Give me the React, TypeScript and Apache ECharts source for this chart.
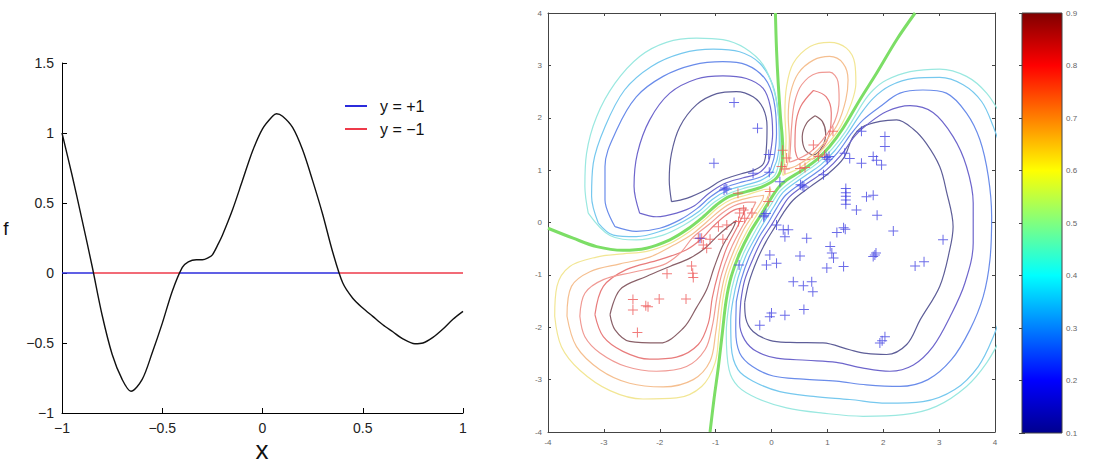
import React, { useEffect, useRef } from "react";
import * as echarts from "echarts";

// ---------- Left panel: latent function f(x) ----------
const fX = [-1, -0.95, -0.9, -0.85, -0.8, -0.75, -0.7, -0.656, -0.6, -0.55, -0.5, -0.45, -0.4, -0.37, -0.33, -0.3, -0.27, -0.25, -0.22, -0.2, -0.15, -0.1, -0.05, 0, 0.05, 0.07, 0.1, 0.15, 0.2, 0.25, 0.3, 0.35, 0.4, 0.45, 0.5, 0.55, 0.6, 0.65, 0.7, 0.76, 0.8, 0.85, 0.9, 0.95, 1];
const fY = [1.0, 0.7, 0.38, 0.05, -0.3, -0.58, -0.76, -0.845, -0.76, -0.57, -0.36, -0.13, 0.04, 0.08, 0.095, 0.095, 0.11, 0.13, 0.21, 0.27, 0.45, 0.66, 0.87, 1.03, 1.12, 1.138, 1.12, 1.04, 0.88, 0.66, 0.42, 0.15, -0.07, -0.18, -0.25, -0.31, -0.37, -0.42, -0.47, -0.505, -0.5, -0.46, -0.4, -0.33, -0.274];
const leftXTicks = [-1, 1, 0.5];
const leftYTicks = [-1, 1.5, 0.5];
const legendNames = ["y = +1", "y = \u22121"];

// ---------- Right panel: contours (data coordinates) ----------
const green05A = [[0.07, 4.0], [0.09, 3.3], [0.12, 2.66], [0.16, 2.02], [0.2, 1.45], [0.18, 1.07], [0.09, 0.85], [-0.15, 0.69], [-0.45, 0.59], [-0.75, 0.5], [-0.98, 0.34], [-1.22, 0.11], [-1.52, -0.14], [-1.82, -0.33], [-2.24, -0.49], [-2.66, -0.53], [-3.13, -0.46], [-3.55, -0.3], [-4.0, -0.11]];
const green05B = [[2.57, 4.0], [2.24, 3.49], [1.88, 2.85], [1.58, 2.34], [1.28, 1.8], [1.04, 1.45], [0.81, 1.2], [0.51, 0.97], [0.27, 0.81], [0.12, 0.66], [-0.06, 0.37], [-0.21, 0.11], [-0.39, -0.2], [-0.57, -0.59], [-0.72, -1.03], [-0.81, -1.48], [-0.88, -2.11], [-0.95, -2.75], [-1.03, -3.38], [-1.1, -4.0]];

const ul1 = [[-1.79, 0.4], [-1.83, 0.81], [-1.79, 1.32], [-1.64, 1.83], [-1.34, 2.25], [-0.98, 2.46], [-0.63, 2.5], [-0.33, 2.4], [-0.15, 2.18], [-0.08, 1.83], [-0.09, 1.45], [-0.14, 1.13], [-0.29, 1.01], [-0.54, 0.93], [-0.88, 0.81], [-1.18, 0.62], [-1.52, 0.46], [-1.79, 0.4]];
const ul2 = [[-2.36, 0.18], [-2.46, 0.69], [-2.4, 1.32], [-2.18, 1.96], [-1.82, 2.47], [-1.34, 2.74], [-0.87, 2.8], [-0.45, 2.75], [-0.15, 2.56], [-0.02, 2.21], [0.02, 1.7], [-0.02, 1.32], [-0.07, 1.12], [-0.25, 0.93], [-0.52, 0.85], [-0.85, 0.74], [-1.13, 0.55], [-1.38, 0.32], [-1.7, 0.18], [-2.06, 0.11], [-2.36, 0.18]];
const ul3 = [[-2.8, -0.08], [-2.98, 0.43], [-2.98, 1.07], [-2.77, 1.77], [-2.42, 2.4], [-1.94, 2.79], [-1.4, 3.01], [-0.87, 3.07], [-0.45, 3.01], [-0.12, 2.75], [0.04, 2.34], [0.09, 1.7], [0.05, 1.26], [0.01, 1.11], [-0.04, 0.97], [-0.22, 0.86], [-0.5, 0.78], [-0.82, 0.67], [-1.09, 0.49], [-1.34, 0.26], [-1.64, 0.05], [-2.0, -0.11], [-2.42, -0.17], [-2.8, -0.08]];
const ul4 = [[-3.1, -0.01], [-3.22, 0.5], [-3.19, 1.13], [-2.98, 1.83], [-2.63, 2.53], [-2.15, 2.98], [-1.61, 3.23], [-1.04, 3.31], [-0.57, 3.26], [-0.21, 3.04], [0.02, 2.63], [0.12, 2.09], [0.14, 1.51], [0.1, 1.2], [0.06, 1.09], [0.0, 0.94], [-0.2, 0.8], [-0.48, 0.71], [-0.79, 0.61], [-1.06, 0.44], [-1.3, 0.21], [-1.58, 0.02], [-1.94, -0.15], [-2.42, -0.27], [-2.83, -0.24], [-3.1, -0.01]];
const ul5 = [[-3.28, 0.18], [-3.34, 0.69], [-3.31, 1.32], [-3.13, 2.02], [-2.8, 2.66], [-2.36, 3.17], [-1.88, 3.44], [-1.34, 3.52], [-0.87, 3.49], [-0.48, 3.33], [-0.15, 3.01], [0.05, 2.5], [0.14, 1.9], [0.16, 1.39], [0.12, 1.08], [0.05, 0.89], [-0.17, 0.74], [-0.47, 0.66], [-0.77, 0.55], [-1.02, 0.39], [-1.26, 0.17], [-1.55, -0.04], [-1.94, -0.24], [-2.42, -0.33], [-2.89, -0.25], [-3.28, 0.18]];

const rr1 = [[-0.48, -1.53], [-0.4, -1.13], [-0.26, -0.72], [-0.1, -0.37], [0.07, -0.07], [0.21, 0.18], [0.39, 0.43], [0.69, 0.68], [1.01, 0.93], [1.29, 1.23], [1.45, 1.62], [1.62, 1.82], [1.94, 1.93], [2.24, 1.96], [2.54, 1.78], [2.77, 1.51], [3.01, 1.07], [3.13, 0.6], [3.25, -0.08], [3.19, -0.52], [3.01, -1.22], [2.66, -1.86], [2.42, -2.33], [2.06, -2.52], [1.7, -2.5], [1.4, -2.43], [0.92, -2.3], [0.33, -2.29], [-0.03, -2.25], [-0.33, -2.08], [-0.46, -1.83], [-0.48, -1.53]];
const rr2 = [[-0.55, -1.51], [-0.48, -1.1], [-0.33, -0.69], [-0.17, -0.33], [0.01, -0.03], [0.15, 0.22], [0.32, 0.49], [0.64, 0.75], [0.97, 0.99], [1.24, 1.28], [1.49, 1.65], [1.7, 1.86], [2.06, 2.12], [2.48, 2.23], [2.89, 2.1], [3.25, 1.64], [3.49, 1.07], [3.61, 0.37], [3.61, -0.39], [3.46, -1.16], [3.2, -1.79], [2.89, -2.37], [2.54, -2.72], [2.12, -2.84], [1.64, -2.78], [1.16, -2.67], [0.63, -2.63], [0.09, -2.59], [-0.27, -2.46], [-0.48, -2.24], [-0.57, -1.92], [-0.55, -1.51]];
const rr3 = [[-0.63, -1.51], [-0.54, -1.08], [-0.4, -0.66], [-0.23, -0.29], [-0.05, 0.01], [0.09, 0.27], [0.26, 0.53], [0.61, 0.81], [0.92, 1.05], [1.18, 1.33], [1.43, 1.7], [1.64, 1.96], [1.94, 2.21], [2.3, 2.47], [2.71, 2.53], [3.13, 2.47], [3.49, 2.09], [3.73, 1.58], [3.88, 0.88], [3.94, 0.11], [3.91, -0.71], [3.79, -1.41], [3.55, -2.05], [3.22, -2.62], [2.8, -3.0], [2.3, -3.13], [1.7, -3.1], [1.16, -3.03], [0.57, -2.99], [0.03, -2.93], [-0.34, -2.75], [-0.57, -2.49], [-0.64, -2.05], [-0.63, -1.51]];
const rr4 = [[4.15, -1.6], [3.97, -2.18], [3.7, -2.75], [3.28, -3.19], [2.71, -3.42], [2.06, -3.45], [1.4, -3.38], [0.75, -3.32], [0.15, -3.23], [-0.33, -3.03], [-0.6, -2.81], [-0.72, -2.37], [-0.73, -1.86], [-0.69, -1.49], [-0.6, -1.06], [-0.46, -0.64], [-0.28, -0.27], [-0.11, 0.05], [0.04, 0.3], [0.21, 0.58], [0.57, 0.87], [0.88, 1.1], [1.13, 1.37], [1.38, 1.73], [1.58, 2.05], [1.82, 2.37], [2.12, 2.61], [2.54, 2.75], [3.01, 2.77], [3.43, 2.63], [3.76, 2.31], [3.97, 1.83], [4.15, 1.26]];
const rr5 = [[4.15, -2.11], [3.85, -2.68], [3.49, -3.13], [2.95, -3.51], [2.36, -3.67], [1.64, -3.7], [0.92, -3.64], [0.27, -3.54], [-0.27, -3.35], [-0.6, -3.13], [-0.76, -2.81], [-0.81, -2.11], [-0.75, -1.49], [-0.66, -1.05], [-0.51, -0.61], [-0.33, -0.24], [-0.16, 0.08], [-0.01, 0.34], [0.17, 0.62], [0.54, 0.92], [0.84, 1.15], [1.09, 1.41], [1.34, 1.76], [1.64, 2.29], [1.82, 2.53], [2.06, 2.72], [2.48, 2.88], [3.01, 2.93], [3.49, 2.79], [3.85, 2.47], [4.15, 1.96]];

const ll1 = [[-2.89, -1.76], [-2.71, -1.28], [-2.24, -1.03], [-1.82, -0.84], [-1.46, -0.68], [-1.19, -0.49], [-0.98, -0.27], [-0.78, -0.08], [-0.63, 0.04], [-0.69, -0.11], [-0.88, -0.46], [-1.03, -0.87], [-1.16, -1.28], [-1.34, -1.62], [-1.58, -2.02], [-2.0, -2.3], [-2.54, -2.27], [-2.8, -2.05], [-2.89, -1.76]];
const ll2 = [[-3.16, -1.76], [-3.01, -1.22], [-2.6, -0.9], [-2.0, -0.71], [-1.52, -0.52], [-1.22, -0.28], [-1.06, -0.09], [-0.84, 0.12], [-0.64, 0.25], [-0.45, 0.28], [-0.61, -0.08], [-0.8, -0.48], [-0.95, -0.96], [-1.06, -1.44], [-1.13, -1.92], [-1.31, -2.33], [-1.7, -2.57], [-2.18, -2.61], [-2.66, -2.46], [-3.01, -2.18], [-3.16, -1.76]];
const ll3 = [[-3.43, -1.79], [-3.34, -1.35], [-3.01, -1.09], [-2.48, -0.95], [-1.94, -0.81], [-1.64, -0.59], [-1.41, -0.29], [-1.11, -0.03], [-0.88, 0.18], [-0.67, 0.32], [-0.42, 0.39], [-0.28, 0.39], [-0.36, 0.22], [-0.54, -0.11], [-0.73, -0.51], [-0.89, -0.98], [-0.98, -1.45], [-1.06, -1.98], [-1.19, -2.43], [-1.52, -2.75], [-2.06, -2.84], [-2.6, -2.75], [-3.07, -2.49], [-3.34, -2.18], [-3.43, -1.79]];
const ll4 = [[-3.66, -1.79], [-3.58, -1.22], [-3.25, -0.94], [-2.71, -0.79], [-2.18, -0.66], [-1.75, -0.43], [-1.44, -0.24], [-1.15, 0.02], [-0.91, 0.24], [-0.7, 0.38], [-0.41, 0.47], [-0.14, 0.52], [-0.16, 0.44], [-0.31, 0.18], [-0.5, -0.14], [-0.67, -0.53], [-0.83, -1.0], [-0.92, -1.46], [-1.0, -2.11], [-1.1, -2.65], [-1.4, -3.0], [-1.94, -3.14], [-2.54, -3.07], [-3.07, -2.81], [-3.49, -2.37], [-3.66, -1.79]];
const ll5 = [[-3.88, -1.79], [-3.84, -1.22], [-3.61, -0.84], [-3.13, -0.66], [-2.66, -0.6], [-2.23, -0.55], [-1.8, -0.39], [-1.49, -0.19], [-1.19, 0.06], [-0.95, 0.29], [-0.72, 0.44], [-0.43, 0.53], [-0.13, 0.63], [-0.01, 0.64], [-0.11, 0.4], [-0.26, 0.15], [-0.44, -0.17], [-0.62, -0.56], [-0.78, -1.01], [-0.87, -1.46], [-0.94, -2.11], [-1.01, -2.68], [-1.25, -3.13], [-1.7, -3.35], [-2.3, -3.37], [-2.89, -3.21], [-3.43, -2.82], [-3.76, -2.37], [-3.88, -1.79]];

const ur1 = [[0.78, 2.04], [0.91, 1.93], [0.97, 1.7], [0.91, 1.45], [0.75, 1.29], [0.6, 1.39], [0.55, 1.64], [0.63, 1.9], [0.78, 2.04]];
const ur2 = [[0.75, 2.52], [0.98, 2.4], [1.07, 2.09], [1.04, 1.7], [0.92, 1.42], [0.72, 1.21], [0.51, 1.2], [0.42, 1.45], [0.43, 1.83], [0.52, 2.21], [0.75, 2.52]];
const ur3 = [[0.32, 1.15], [0.34, 1.45], [0.36, 1.83], [0.41, 2.28], [0.54, 2.63], [0.81, 2.85], [1.04, 2.87], [1.19, 2.69], [1.21, 2.34], [1.13, 1.93], [0.91, 1.57], [0.69, 1.34], [0.45, 1.2], [0.32, 1.15]];
const ur4 = [[0.26, 1.02], [0.3, 1.2], [0.32, 1.58], [0.3, 2.02], [0.34, 2.47], [0.48, 2.85], [0.75, 3.1], [1.04, 3.17], [1.28, 3.04], [1.37, 2.72], [1.33, 2.34], [1.18, 1.87], [0.95, 1.53], [0.73, 1.29], [0.44, 1.08], [0.26, 1.02]];
const ur5 = [[0.2, 0.9], [0.24, 1.2], [0.26, 1.58], [0.24, 2.09], [0.27, 2.6], [0.39, 3.04], [0.69, 3.36], [1.04, 3.44], [1.34, 3.33], [1.49, 3.04], [1.51, 2.66], [1.43, 2.28], [1.24, 1.84], [1.0, 1.49], [0.77, 1.25], [0.47, 1.02], [0.27, 0.93], [0.2, 0.9]];

// training points
const redPts = [[-2.48, -1.47], [-2.48, -1.67], [-2.25, -1.59], [-2.21, -1.61], [-2.01, -1.46], [-2.4, -2.1], [-1.87, -0.98], [-1.53, -1.46], [-1.43, -0.83], [-1.41, -0.97], [-1.4, -1.05], [-1.31, -0.3], [-1.25, -0.3], [-1.22, -0.43], [-1.16, -0.49], [-1.1, -0.32], [-0.87, -0.32], [-0.95, -0.08], [-0.8, -0.05], [-0.59, 0.02], [-0.57, 0.18], [-0.48, 0.08], [-0.5, 0.24], [-0.35, 0.18], [-0.6, 0.56], [-0.03, 0.59], [-0.06, 0.4], [0.2, 1.38], [0.27, 1.23], [0.18, 1.07], [0.24, 1.02], [0.51, 1.03], [0.75, 1.48], [0.84, 1.26], [0.95, 1.29], [1.1, 1.74], [0.6, 1.05]];
const bluePts = [[-0.67, 2.29], [-0.25, 1.8], [-1.03, 1.13], [-0.83, 0.66], [-0.8, 0.64], [-0.85, 0.62], [-0.33, 0.94], [-0.04, 0.96], [-0.05, 1.3], [0.15, 0.78], [-0.13, 0.14], [-0.1, 0.17], [-0.14, 0.11], [0.09, -0.05], [-0.58, -0.81], [0.24, -0.27], [0.3, -0.14], [0.21, -0.14], [0.63, -0.3], [-0.09, -0.81], [-0.03, -0.62], [0.09, -0.78], [0.51, -0.64], [0.39, -1.13], [0.57, -1.21], [0.72, -1.13], [0.74, -1.32], [0.0, -1.73], [-0.03, -1.8], [0.24, -1.77], [0.58, -1.66], [-0.21, -1.96], [0.55, 0.7], [0.58, 0.68], [0.52, 0.72], [1.0, 1.21], [1.03, 1.26], [0.98, 1.24], [0.93, 0.91], [1.31, 1.32], [1.4, 1.22], [1.61, 1.13], [1.82, 1.26], [1.88, 1.19], [1.97, 1.1], [1.61, 1.74], [2.03, 1.64], [2.03, 1.45], [1.33, 0.65], [1.33, 0.57], [1.33, 0.5], [1.33, 0.43], [1.33, 0.35], [1.7, 0.49], [1.82, 0.52], [1.52, 0.24], [1.89, 0.14], [2.18, -0.16], [3.07, -0.33], [1.17, -0.19], [1.32, -0.13], [1.29, -0.1], [1.05, -0.46], [1.08, -0.58], [1.11, -0.68], [0.99, -0.87], [1.29, -0.84], [1.85, -0.62], [1.82, -0.65], [1.87, -0.58], [2.57, -0.83], [2.73, -0.75], [2.03, -2.18], [1.94, -2.3], [1.98, -2.26], [-1.28, -0.3]];

// colour scale
const cbMin = 0.1;
const cbMax = 0.9;
const jetStops = [
  [0, "#800000"], [0.125, "#ff0000"], [0.375, "#ffff00"], [0.625, "#00ffff"], [0.875, "#0000ff"], [1, "#00008f"],
];

const blueLevelColors = ["#5e5e98", "#6e66cc", "#6a8cea", "#76c8ee", "#9ae8e0"];
const redLevelColors = ["#8a6068", "#e87c7c", "#f09a94", "#f5bf90", "#f2e694"];

const PLUS = "path://M4.5,0H5.5V4.5H10V5.5H5.5V10H4.5V5.5H0V4.5H4.5Z";

function signSegments(xs: number[], ys: number[]) {
  const pos: number[][][] = [];
  const neg: number[][][] = [];
  let start = xs[0];
  let sign = ys[0] >= 0;
  for (let i = 1; i < xs.length; i++) {
    const s = ys[i] >= 0;
    if (s !== sign) {
      const t = ys[i - 1] / (ys[i - 1] - ys[i]);
      const xc = xs[i - 1] + t * (xs[i] - xs[i - 1]);
      (sign ? pos : neg).push([[start, 0], [xc, 0]]);
      start = xc;
      sign = s;
    }
  }
  (sign ? pos : neg).push([[start, 0], [xs[xs.length - 1], 0]]);
  return { pos, neg };
}

const minus = (v: number) => String(v).replace("-", "\u2212");

export default function App() {
  const ref = useRef<HTMLDivElement>(null);
  useEffect(() => {
    if (!ref.current) return;
    const chart = echarts.init(ref.current, undefined, { renderer: "svg" });
    const font = "Liberation Sans, Arial, Helvetica, sans-serif";

    const segs = signSegments(fX, fY);
    const zeroSeries: any[] = [];
    segs.pos.forEach((d) =>
      zeroSeries.push({
        name: legendNames[0], type: "line", xAxisIndex: 0, yAxisIndex: 0, data: d,
        symbol: "none", color: "#2b2bdc", lineStyle: { color: "#2b2bdc", width: 1.6 }, z: 2, silent: true,
      })
    );
    segs.neg.forEach((d) =>
      zeroSeries.push({
        name: legendNames[1], type: "line", xAxisIndex: 0, yAxisIndex: 0, data: d,
        symbol: "none", color: "#ee3a4a", lineStyle: { color: "#ee3a4a", width: 1.6 }, z: 2, silent: true,
      })
    );

    const contour = (data: number[][], color: string, width = 1.2, z = 2) => ({
      type: "line", xAxisIndex: 1, yAxisIndex: 1, data, symbol: "none", smooth: 0.35,
      lineStyle: { color, width }, z, silent: true, clip: true,
    });

    const contourSeries: any[] = [];
    [ul1, ul2, ul3, ul4, ul5].forEach((d, i) => contourSeries.push(contour(d, blueLevelColors[i])));
    [rr1, rr2, rr3, rr4, rr5].forEach((d, i) => contourSeries.push(contour(d, blueLevelColors[i])));
    [ll1, ll2, ll3, ll4, ll5].forEach((d, i) => contourSeries.push(contour(d, redLevelColors[i])));
    [ur1, ur2, ur3, ur4, ur5].forEach((d, i) => contourSeries.push(contour(d, redLevelColors[i])));
    contourSeries.push(contour(green05A, "#7cde66", 3, 3));
    contourSeries.push(contour(green05B, "#7cde66", 3, 3));

    const rightTick = { show: true, inside: true, length: 3, lineStyle: { color: "#444" } };
    const rightLine = { show: true, lineStyle: { color: "#444", width: 1 } };
    const rightLabel = { fontSize: 8, color: "#666", fontFamily: font, margin: 6 };

    const option: any = {
      animation: false,
      textStyle: { fontFamily: font },
      grid: [
        { left: 62, top: 63, width: 401, height: 350 },
        { left: 548, top: 13, width: 447, height: 419 },
        { left: 1022, top: 13, width: 40, height: 420 },
      ],
      legend: {
        data: legendNames, left: 340, top: 93, orient: "vertical", icon: "rect",
        itemWidth: 22, itemHeight: 2, itemGap: 7, selectedMode: false,
        textStyle: { fontSize: 16, color: "#111", fontFamily: font, padding: [0, 0, 0, 8] },
      },
      xAxis: [
        {
          gridIndex: 0, type: "value", min: leftXTicks[0], max: leftXTicks[1], interval: leftXTicks[2],
          axisLine: { show: true, onZero: false, lineStyle: { color: "#000", width: 1 } },
          axisTick: { show: true, inside: true, length: 5, lineStyle: { color: "#000" } },
          axisLabel: { fontSize: 14, color: "#222", margin: 8, formatter: minus },
          splitLine: { show: false },
        },
        {
          gridIndex: 1, type: "value", min: -4, max: 4, interval: 1, position: "bottom",
          axisLine: { ...rightLine, onZero: false }, axisTick: rightTick, axisLabel: rightLabel, splitLine: { show: false },
        },
        {
          gridIndex: 1, type: "value", min: -4, max: 4, interval: 1, position: "top",
          axisLine: { ...rightLine, onZero: false }, axisTick: rightTick, axisLabel: { show: false }, splitLine: { show: false },
        },
        { gridIndex: 2, type: "value", min: 0, max: 1, show: false },
      ],
      yAxis: [
        {
          gridIndex: 0, type: "value", min: leftYTicks[0], max: leftYTicks[1], interval: leftYTicks[2],
          axisLine: { show: true, onZero: false, lineStyle: { color: "#000", width: 1 } },
          axisTick: { show: true, inside: true, length: 5, lineStyle: { color: "#000" } },
          axisLabel: { fontSize: 14, color: "#222", margin: 8, formatter: minus },
          splitLine: { show: false },
        },
        {
          gridIndex: 1, type: "value", min: -4, max: 4, interval: 1, position: "left",
          axisLine: { ...rightLine, onZero: false }, axisTick: rightTick, axisLabel: rightLabel, splitLine: { show: false },
        },
        {
          gridIndex: 1, type: "value", min: -4, max: 4, interval: 1, position: "right",
          axisLine: { ...rightLine, onZero: false }, axisTick: rightTick, axisLabel: { show: false }, splitLine: { show: false },
        },
        {
          gridIndex: 2, type: "value", min: cbMin, max: cbMax, interval: 0.1, position: "right",
          axisLine: { show: false }, axisTick: { show: true, inside: true, length: 3, lineStyle: { color: "#444" } },
          axisLabel: { fontSize: 8, color: "#666", margin: 4, formatter: (v: number) => v.toFixed(1) },
          splitLine: { show: false },
        },
        {
          gridIndex: 2, type: "value", min: cbMin, max: cbMax, interval: 0.1, position: "left",
          axisLine: { show: false }, axisTick: { show: true, inside: true, length: 3, lineStyle: { color: "#444" } },
          axisLabel: { show: false }, splitLine: { show: false },
        },
      ],
      graphic: [
        {
          type: "rect", z: 1,
          shape: { x: 1022, y: 13, width: 40, height: 420 },
          style: {
            fill: new echarts.graphic.LinearGradient(0, 0, 0, 1, jetStops.map(([o, c]) => ({ offset: o as number, color: c as string }))),
            stroke: "#444", lineWidth: 1,
          },
        },
        { type: "text", x: 262, y: 450, style: { text: "x", fontSize: 26, fill: "#111", fontFamily: font, textAlign: "center", textVerticalAlign: "middle" } },
        { type: "text", x: 6, y: 228, style: { text: "f", fontSize: 19, fill: "#111", fontFamily: font, textAlign: "center", textVerticalAlign: "middle" } },
      ],
      series: [
        {
          type: "line", xAxisIndex: 0, yAxisIndex: 0, data: fX.map((x, i) => [x, fY[i]]),
          symbol: "none", smooth: 0.3, lineStyle: { color: "#111", width: 1.4 }, z: 3, silent: true,
        },
        ...zeroSeries,
        ...contourSeries,
        {
          type: "scatter", xAxisIndex: 1, yAxisIndex: 1, data: redPts, symbol: PLUS, symbolSize: 10,
          itemStyle: { color: "#ee5a5a", opacity: 0.8 }, z: 5, silent: true,
        },
        {
          type: "scatter", xAxisIndex: 1, yAxisIndex: 1, data: bluePts, symbol: PLUS, symbolSize: 10,
          itemStyle: { color: "#4646e2", opacity: 0.8 }, z: 5, silent: true,
        },
        { type: "line", xAxisIndex: 3, yAxisIndex: 3, data: [], silent: true },
      ],
    };
    chart.setOption(option);
    return () => chart.dispose();
  }, []);
  return <div ref={ref} style={{ position: "absolute", left: 0, top: 0, width: 1095, height: 465 }} />;
}
